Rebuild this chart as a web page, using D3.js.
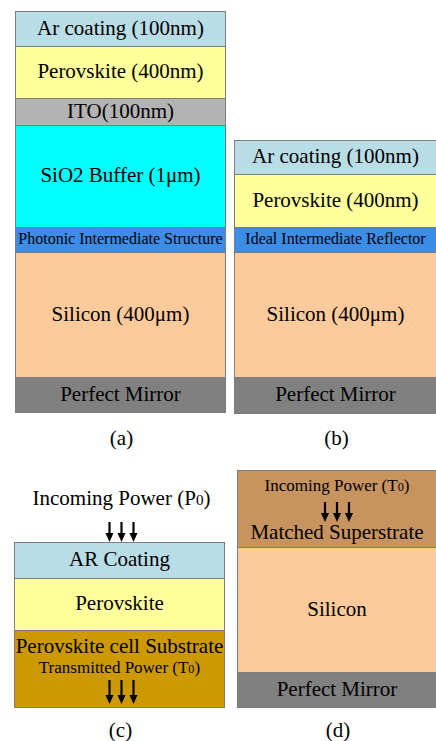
<!DOCTYPE html>
<html>
<head>
<meta charset="utf-8">
<script src="https://cdn.jsdelivr.net/npm/d3@7"></script>
</head>
<body style="margin:0">
<svg id="chart" width="436" height="741"></svg>
<script>
// Layer stacks (top to bottom). Thickness is in relative drawing units.
const stackALabels = ["Ar coating (100nm)", "Perovskite (400nm)", "ITO(100nm)", "SiO2 Buffer (1μm)",
                      "Photonic Intermediate Structure", "Silicon (400μm)", "Perfect Mirror"];
const stackAMaterials = ["ar", "perovskite", "ito", "sio2", "reflector", "silicon", "mirror"];
const stackAThickness = [1.4, 2.08, 1.08, 4.08, 1.0, 5.0, 1.4];

const stackBLabels = ["Ar coating (100nm)", "Perovskite (400nm)", "Ideal Intermediate Reflector",
                      "Silicon (400μm)", "Perfect Mirror"];
const stackBMaterials = ["ar", "perovskite", "reflector", "silicon", "mirror"];
const stackBThickness = [1.36, 2.12, 1.0, 5.0, 1.44];

const stackCLabels = ["AR Coating", "Perovskite", "Perovskite cell Substrate"];
const stackCMaterials = ["ar", "perovskite", "substrate"];
const stackCThickness = [1.44, 2.08, 3.08];

const stackDLabels = ["Matched Superstrate", "Silicon", "Perfect Mirror"];
const stackDMaterials = ["superstrate", "silicon", "mirror"];
const stackDThickness = [3.08, 5.0, 1.4];

const panelTags = ["(a)", "(b)", "(c)", "(d)"];
const powerLabels = { incomingC: ["Incoming Power (P", "0", ")"],
                      transmittedC: ["Transmitted Power (T", "0", ")"],
                      incomingD: ["Incoming Power (T", "0", ")"] };

// Fill colours per material
const materialColor = {
  ar: "#b8dde6", perovskite: "#ffff9c", ito: "#b3b3b3", sio2: "#00ffff",
  reflector: "#3b8de8", silicon: "#fdca9b", mirror: "#808080",
  substrate: "#cc9900", superstrate: "#c7935f"
};

const svg = d3.select("#chart").style("font-family", '"Liberation Serif"');

const BIG = 21, SMALL = 16;

function label(g, x, y, fs, str) {
  return g.append("text").attr("x", x).attr("y", y)
    .attr("text-anchor", "middle").attr("font-size", fs)
    .style("font-family", '"Liberation Serif"').text(str);
}

function drawStack(cfg) {
  const { labels, materials, thickness, x0, x1, y0, y1, tag, tagY } = cfg;
  const total = d3.sum(thickness);
  const y = d3.scaleLinear().domain([0, total]).range([y0, y1]);
  const starts = d3.cumsum([0, ...thickness]).slice(0, thickness.length);
  const layers = labels.map((lab, i) => ({
    label: lab, material: materials[i], start: starts[i], end: starts[i] + thickness[i], i
  }));
  svg.selectAll(null).data(layers).join("rect")
    .attr("x", x0 + 0.5).attr("width", x1 - x0 - 1)
    .attr("y", d => y(d.start) + 0.5)
    .attr("height", d => y(d.end) - y(d.start))
    .attr("fill", d => materialColor[d.material])
    .attr("stroke", "#7c7c7c").attr("stroke-width", 1);
  const cx = (x0 + x1) / 2;
  layers.forEach(d => {
    const fs = d.material === "reflector" ? SMALL : BIG;
    let ty = (y(d.start) + y(d.end)) / 2 + fs * 0.3;
    if (cfg.labelY && cfg.labelY[d.i] != null) ty = cfg.labelY[d.i](y(d.start), y(d.end));
    label(svg, cx, ty, fs, d.label);
  });
  label(svg, cx + 1, tagY, BIG, tag);
  return { y, cx, layers };
}

function subText(x, yb, parts, fs) {
  const t = svg.append("text").attr("x", x).attr("y", yb)
    .attr("text-anchor", "middle").attr("font-size", fs)
    .style("font-family", '"Liberation Serif"');
  t.append("tspan").text(parts[0]);
  t.append("tspan").attr("font-size", fs * 0.72).text(parts[1]);
  t.append("tspan").text(parts[2]);
}

function arrows(cx, ya, yb) {
  [-12, 0, 12].forEach(dx => {
    const x = cx + dx;
    svg.append("line").attr("x1", x).attr("x2", x).attr("y1", ya).attr("y2", yb - 7)
      .attr("stroke", "#000").attr("stroke-width", 2.2);
    svg.append("path")
      .attr("d", `M${x - 4},${yb - 9}L${x + 4},${yb - 9}L${x},${yb}Z`)
      .attr("fill", "#000");
  });
}

drawStack({ labels: stackALabels, materials: stackAMaterials, thickness: stackAThickness,
  x0: 15, x1: 226, y0: 11, y1: 412, tag: panelTags[0], tagY: 445 });

drawStack({ labels: stackBLabels, materials: stackBMaterials, thickness: stackBThickness,
  x0: 234, x1: 437, y0: 140, y1: 413, tag: panelTags[1], tagY: 445 });

const c = drawStack({ labels: stackCLabels, materials: stackCMaterials, thickness: stackCThickness,
  x0: 14, x1: 225, y0: 542, y1: 707, tag: panelTags[2], tagY: 737,
  labelY: [null, null, (top) => top + 23] });
subText(c.cx + 2, 505, powerLabels.incomingC, BIG);
arrows(c.cx + 2, 522, 542);
const subTop = c.y(stackCThickness[0] + stackCThickness[1]);
subText(c.cx, subTop + 43, powerLabels.transmittedC, 17);
arrows(c.cx + 2, subTop + 50, subTop + 74);

const d = drawStack({ labels: stackDLabels, materials: stackDMaterials, thickness: stackDThickness,
  x0: 237, x1: 437, y0: 470, y1: 707, tag: panelTags[3], tagY: 737,
  labelY: [(top) => top + 69, null, null] });
subText(d.cx, 491, powerLabels.incomingD, 17);
arrows(d.cx, 502, 522);
</script>
</body>
</html>
